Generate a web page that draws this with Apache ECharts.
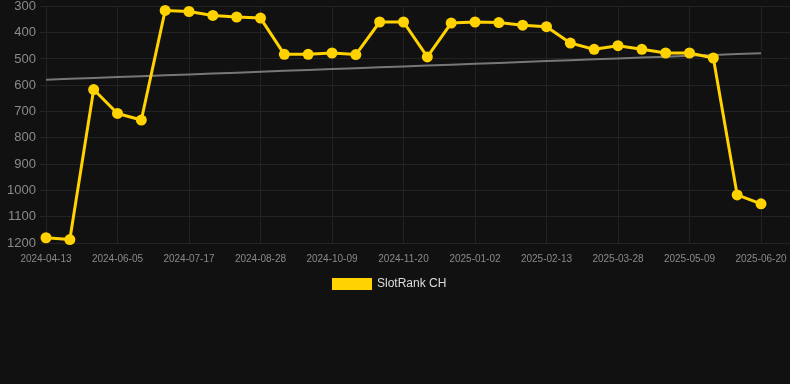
<!DOCTYPE html>
<html>
<head>
<meta charset="utf-8">
<script src="https://cdn.jsdelivr.net/npm/echarts@6/dist/echarts.min.js"></script>
<style>
  html, body { margin: 0; padding: 0; background: #111111; }
  #chart { width: 790px; height: 384px; }
</style>
</head>
<body>
<div id="chart"></div>
<script>
// categories (every third one is labelled on the axis)
const dates = [
  '2024-04-13', '2024-05-08', '2024-05-22', '2024-06-05', '2024-06-19', '2024-07-03',
  '2024-07-17', '2024-07-31', '2024-08-14', '2024-08-28', '2024-09-11', '2024-09-25',
  '2024-10-09', '2024-10-23', '2024-11-06', '2024-11-20', '2024-12-04', '2024-12-18',
  '2025-01-02', '2025-01-16', '2025-01-30', '2025-02-13', '2025-02-27', '2025-03-13',
  '2025-03-28', '2025-04-11', '2025-04-25', '2025-05-09', '2025-05-23', '2025-06-06',
  '2025-06-20'
]
// rank values
const rankCH = [
  1180, 1187, 616, 707, 732, 315,
  319, 334, 340, 344, 482, 482,
  477, 483, 359, 359, 492, 363,
  359, 361, 371, 377, 439, 463,
  449, 463, 477, 477, 496, 1017,
  1051
]

// linear trend over the index
function trendOf(values) {
  let n = values.length
  let sx = 0, sy = 0, sxy = 0, sxx = 0
  values.forEach((v, i) => { sx += i; sy += v; sxy += i * v; sxx += i * i })
  let b = (n * sxy - sx * sy) / (n * sxx - sx * sx)
  let a = (sy - b * sx) / n
  return values.map((v, i) => +(a + b * i).toFixed(2))
}
const trend = trendOf(rankCH)

let myChart = echarts.init(document.getElementById('chart'))
let option = {
  backgroundColor: '#111111',
  animation: false,
  legend: {
    top: 273,
    left: 327,
    itemWidth: 40,
    itemHeight: 12,
    data: ['SlotRank CH'],
    textStyle: { color: '#dddddd', fontSize: 12, fontFamily: 'Liberation Sans, Arial, sans-serif' },
    icon: 'rect'
  },
  grid: [
    { left: 46, right: 29, top: 6, bottom: 141 },
    { left: 40, right: 0, top: 6, bottom: 141 }
  ],
  xAxis: [
    {
      type: 'category',
      gridIndex: 0,
      data: dates,
      boundaryGap: false,
      axisLine: { show: false },
      axisTick: { show: false },
      axisLabel: {
        interval: 2,
        color: '#8a8a8a',
        fontSize: 10,
        margin: 11,
        fontFamily: 'Liberation Sans, Arial, sans-serif'
      },
      splitLine: { show: true, interval: 2, lineStyle: { color: '#232323', width: 1 } }
    },
    {
      type: 'category',
      gridIndex: 1,
      data: dates,
      show: false
    }
  ],
  yAxis: [
    {
      type: 'value',
      gridIndex: 0,
      inverse: true,
      min: 300,
      max: 1200,
      interval: 100,
      axisLine: { show: false },
      axisTick: { show: false },
      splitLine: { show: false },
      axisLabel: {
        color: '#8a8a8a',
        fontSize: 13,
        margin: 10,
        formatter: function (value) {
          return String(value)
        },
        fontFamily: 'Liberation Sans, Arial, sans-serif'
      }
    },
    {
      type: 'value',
      gridIndex: 1,
      inverse: true,
      min: 300,
      max: 1200,
      interval: 100,
      axisLine: { show: false },
      axisTick: { show: false },
      axisLabel: { show: false },
      splitLine: { show: true, lineStyle: { color: '#232323', width: 1 } }
    }
  ],
  series: [
    {
      name: 'trend',
      type: 'line',
      xAxisIndex: 0,
      yAxisIndex: 0,
      data: trend,
      showSymbol: false,
      symbol: 'none',
      lineStyle: { color: '#777777', width: 2 },
      z: 2,
      silent: true
    },
    {
      name: 'SlotRank CH',
      type: 'line',
      xAxisIndex: 0,
      yAxisIndex: 0,
      data: rankCH,
      symbol: 'circle',
      symbolSize: 11,
      itemStyle: { color: '#ffd200' },
      lineStyle: { color: '#ffd200', width: 3 },
      z: 3
    }
  ]
}
myChart.setOption(option)
</script>
</body>
</html>
